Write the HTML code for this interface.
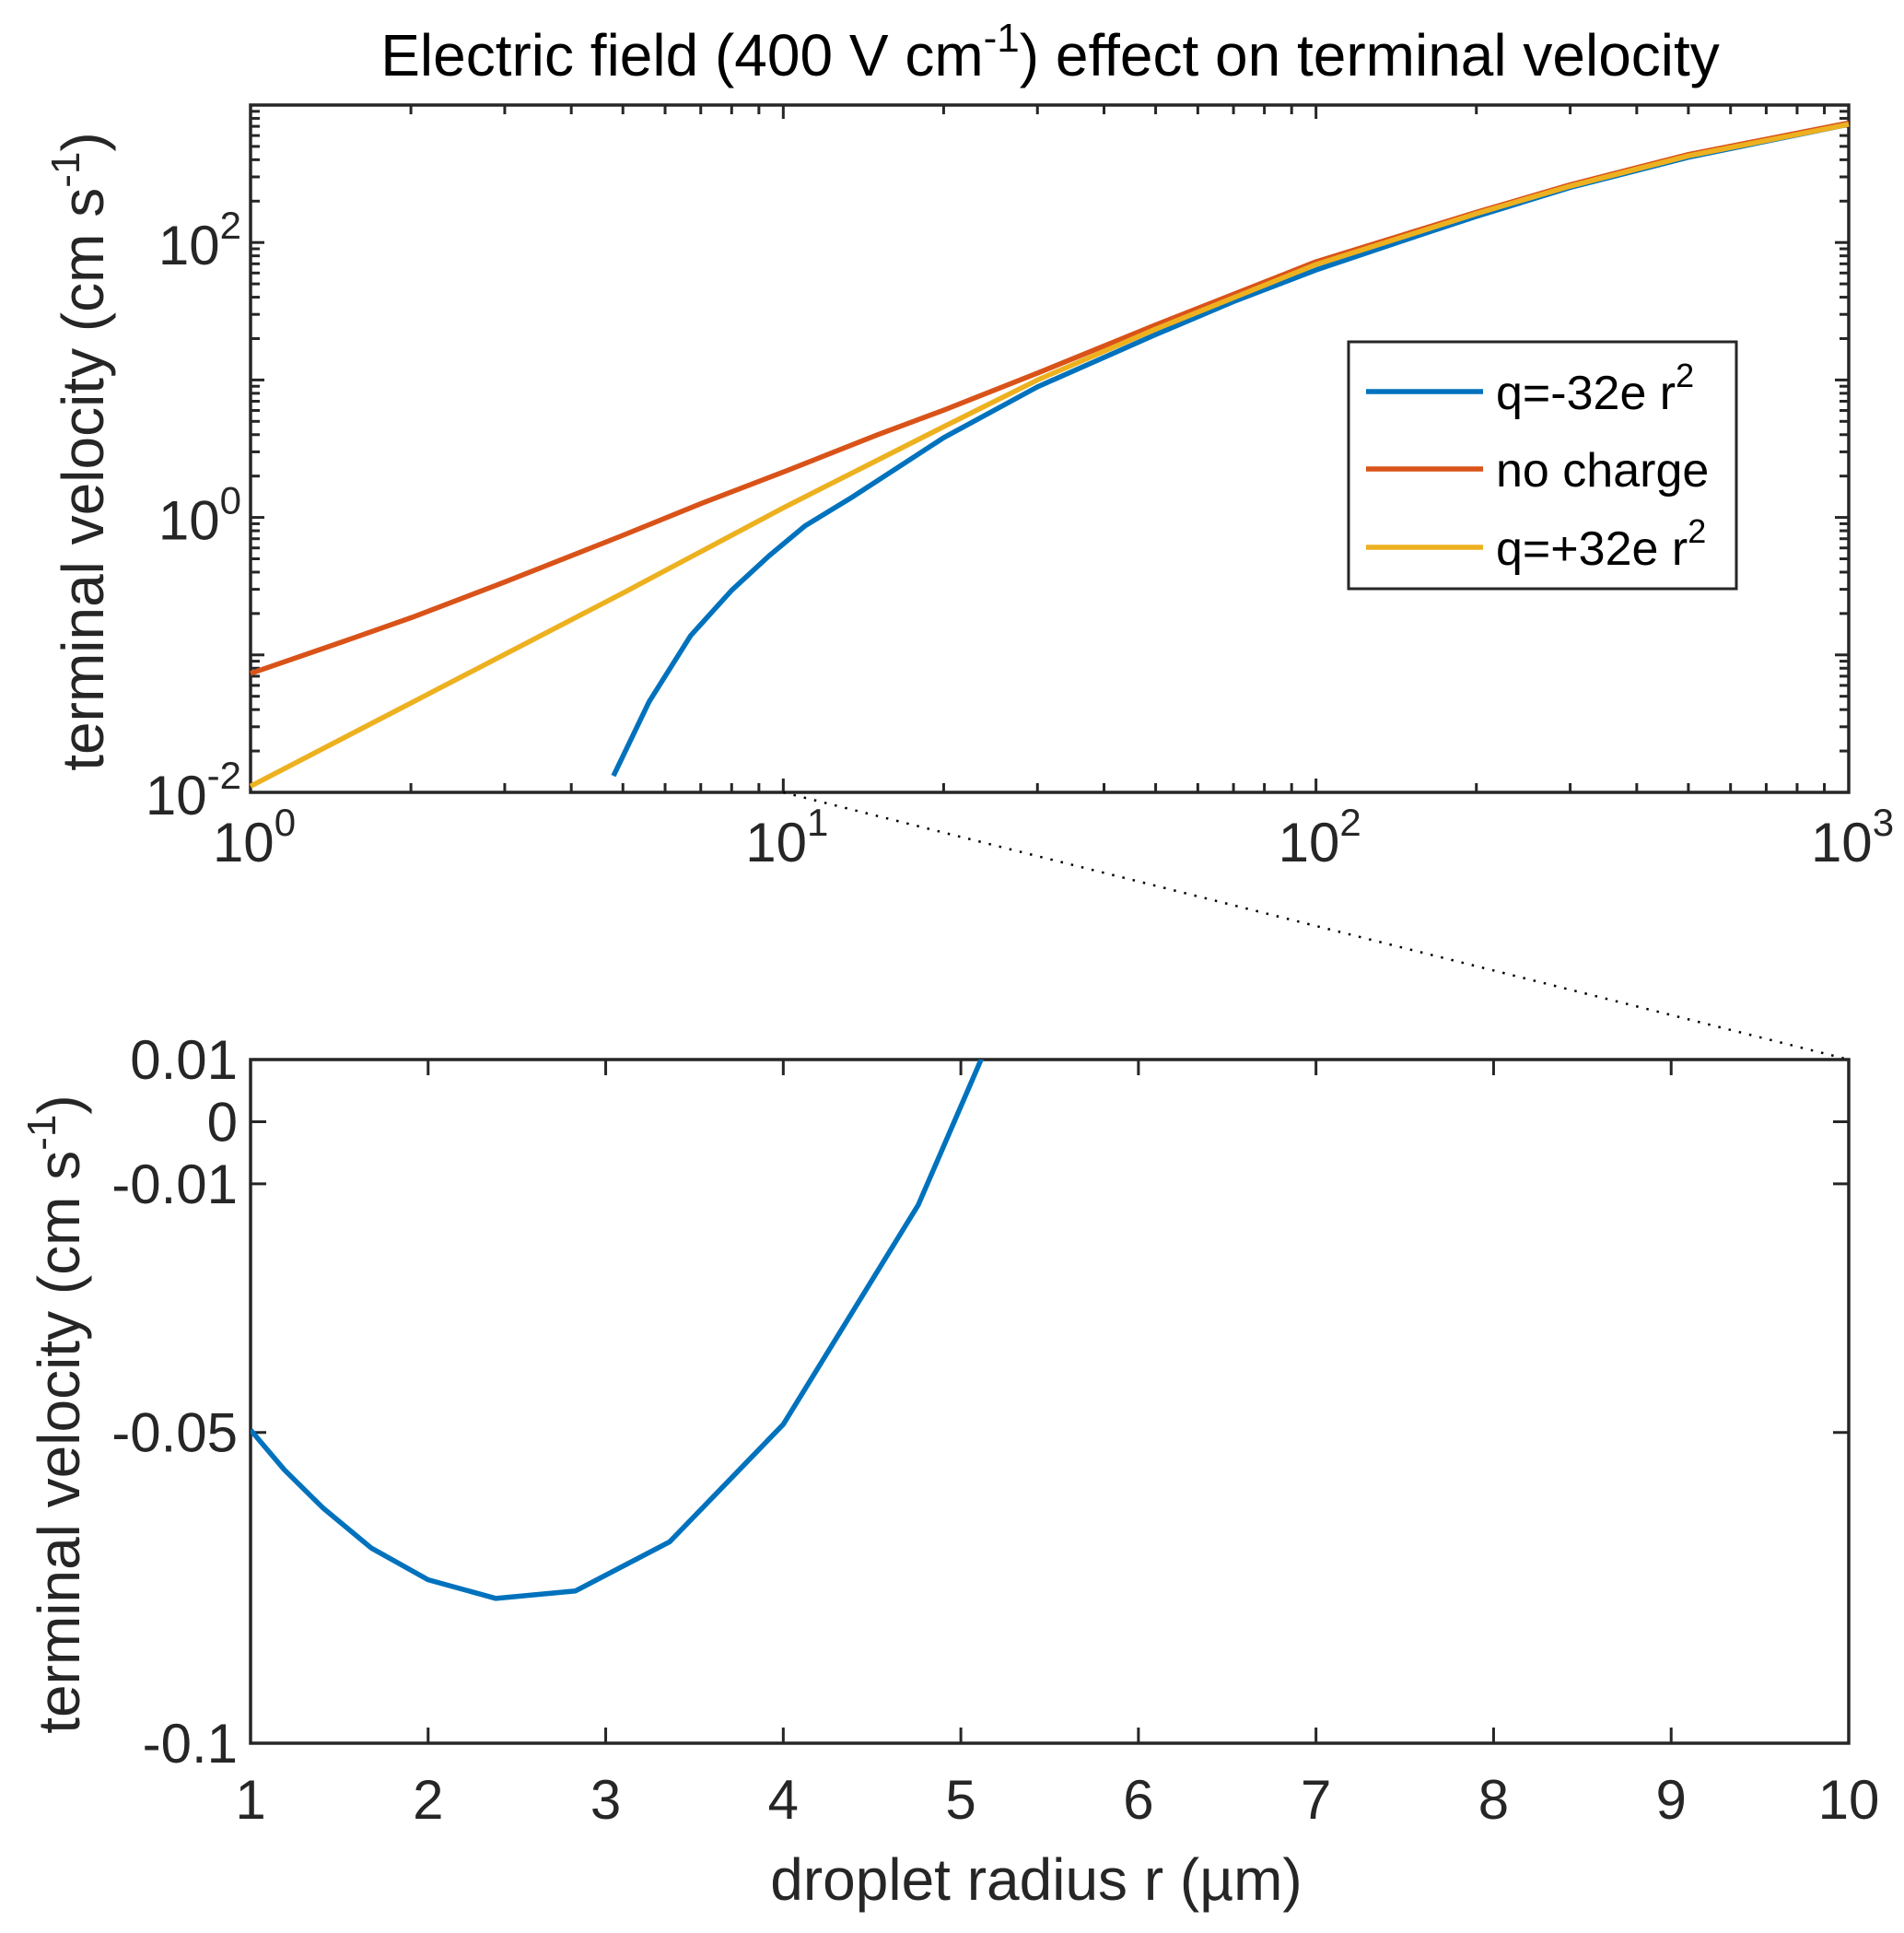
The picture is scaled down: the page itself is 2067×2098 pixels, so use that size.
<!DOCTYPE html>
<html><head><meta charset="utf-8"><style>
html,body{margin:0;padding:0;background:#fff}
svg{display:block;font-family:"Liberation Sans",Helvetica,Arial,sans-serif}
</style></head><body>
<svg id="c" width="2067" height="2098" viewBox="0 0 2067 2098" xmlns="http://www.w3.org/2000/svg"></svg>
<script>
// ---- data ----
const blueX=[4.8,5.6,6.7,8,9.4,11,13.5,20,30,50,70,100,150,200,300,500,1000];
const blueLogY=[-1.88,-1.34,-0.86,-0.53,-0.28,-0.06,0.15,0.58,0.95,1.33,1.57,1.8,2.03,2.19,2.4,2.62,2.86];
const redX=[1,1.5,2,3,5,7,10,15,20,30,50,100,200,300,500,1000];
const redLogY=[-1.135,-0.9,-0.73,-0.47,-0.13,0.1,0.33,0.6,0.78,1.05,1.4,1.86,2.22,2.42,2.64,2.87];
const yelX=[1,2,5,10,20,30,50,100,200,300,500,1000];
const yelLogY=[-1.955,-1.35,-0.55,0.07,0.66,1.0,1.37,1.84,2.21,2.41,2.63,2.86];
const legendLabels=["q=-32e r","no charge","q=+32e r"];
const topXTickExp=[0,1,2,3];
const topYTickExp=[-2,0,2];
const botX=[1,1.19,1.41,1.68,2,2.38,2.83,3.36,4,4.76,5.12];
const botY=[-0.0496,-0.056,-0.0622,-0.0686,-0.0737,-0.0767,-0.0755,-0.0676,-0.0487,-0.0134,0.0104];
const botXTicks=[1,2,3,4,5,6,7,8,9,10];
const botYTicks=[0.01,0,-0.01,-0.05,-0.1];
const botYTickLabels=["0.01","0","-0.01","-0.05","-0.1"];

const NS="http://www.w3.org/2000/svg";
const svg=document.getElementById('c');
function el(tag,attrs,parent){const e=document.createElementNS(NS,tag);for(const k in attrs)e.setAttribute(k,attrs[k]);(parent||svg).appendChild(e);return e;}
const L=272,R=2007,T1=114,B1=860,T2=1150,B2=1892;
const tx=v=>L+Math.log10(v)/3*(R-L);
const tyL=lv=>B1-(lv+2)/5*(B1-T1);
const bx=v=>L+(v-1)/9*(R-L);
const by=v=>B2-(v+0.1)/0.11*(B2-T2);
const ink="#262626";
const TF=60, SF=42, AF=64;

// title
const title=el('text',{x:1140,y:82,'font-size':AF,'text-anchor':'middle',fill:'#000'});


title.innerHTML='Electric field (400 V cm<tspan dy="-26" font-size="44">-1</tspan><tspan dy="26">) effect on terminal velocity</tspan>';

// top axes
const gTop=el('g',{});


el('rect',{x:L,y:T1,width:R-L,height:B1-T1,fill:'#fff',stroke:ink,'stroke-width':3.5},gTop);
for(let d=0;d<3;d++){for(let m=1;m<=9;m++){const v=Math.pow(10,d)*m;const x=tx(v);const len=m===1?15:10;
el('line',{x1:x,y1:B1,x2:x,y2:B1-len,stroke:ink,'stroke-width':3},gTop);
el('line',{x1:x,y1:T1,x2:x,y2:T1+len,stroke:ink,'stroke-width':3},gTop);}}
for(let d=-2;d<3;d++){for(let m=1;m<=9;m++){const lv=d+Math.log10(m);const y=tyL(lv);const len=m===1?15:10;
el('line',{x1:L,y1:y,x2:L+len,y2:y,stroke:ink,'stroke-width':3},gTop);
el('line',{x1:R,y1:y,x2:R-len,y2:y,stroke:ink,'stroke-width':3},gTop);}}
topXTickExp.forEach(e=>{const t=el('text',{x:tx(Math.pow(10,e))+4,y:935,'font-size':TF,'text-anchor':'middle',fill:ink},gTop);


t.innerHTML='10<tspan dy="-28" font-size="'+SF+'">'+e+'</tspan>';});
topYTickExp.forEach(e=>{const t=el('text',{x:262,y:tyL(e)+24,'font-size':TF,'text-anchor':'end',fill:ink},gTop);


t.innerHTML='10<tspan dy="-28" font-size="'+SF+'">'+e+'</tspan>';});
const yl1=el('text',{transform:'translate(112,490) rotate(-90)','font-size':AF,'text-anchor':'middle',fill:ink});


yl1.innerHTML='terminal velocity (cm s<tspan dy="-26" font-size="44">-1</tspan><tspan dy="26">)</tspan>';

function poly(xs,ys,fx,fy,color,name){const p=el('polyline',{points:xs.map((x,i)=>fx(x)+','+fy(ys[i])).join(' '),fill:'none',stroke:color,'stroke-width':5.5,'stroke-linejoin':'round'});

return p;}
poly(redX,redLogY,tx,tyL,'#D95319','series-no-charge');
poly(blueX,blueLogY,tx,tyL,'#0072BD','series-negative-charge');
poly(yelX,yelLogY,tx,tyL,'#EDB120','series-positive-charge');

// legend
const lg=el('g',{});


el('rect',{x:1464,y:371,width:421,height:268,fill:'#fff',stroke:ink,'stroke-width':3},lg);
const lc=['#0072BD','#D95319','#EDB120'];const ly=[425,509,594];
legendLabels.forEach((s,i)=>{
const e=el('g',{},lg);


el('line',{x1:1483,y1:ly[i],x2:1610,y2:ly[i],stroke:lc[i],'stroke-width':5.5},e);
const t=el('text',{x:1624,y:ly[i]+19,'font-size':52,fill:'#000'},e);
t.innerHTML=s+(i!==1?'<tspan dy="-24" font-size="36">2</tspan>':'');});

// dotted connector
const dl=el('line',{x1:tx(10),y1:B1,x2:R,y2:T2,stroke:'#000','stroke-width':2.5,'stroke-dasharray':'2.5 9'});



// bottom axes
const gB=el('g',{});


el('rect',{x:L,y:T2,width:R-L,height:B2-T2,fill:'#fff',stroke:ink,'stroke-width':3.5},gB);
botXTicks.forEach(v=>{const x=bx(v);
el('line',{x1:x,y1:B2,x2:x,y2:B2-17,stroke:ink,'stroke-width':3},gB);
el('line',{x1:x,y1:T2,x2:x,y2:T2+17,stroke:ink,'stroke-width':3},gB);
const t=el('text',{x:x,y:1974,'font-size':TF,'text-anchor':'middle',fill:ink},gB);


t.textContent=v;});
botYTicks.forEach((v,i)=>{const y=by(v);
el('line',{x1:L,y1:y,x2:L+17,y2:y,stroke:ink,'stroke-width':3},gB);
el('line',{x1:R,y1:y,x2:R-17,y2:y,stroke:ink,'stroke-width':3},gB);
const t=el('text',{x:258,y:y+21,'font-size':TF,'text-anchor':'end',fill:ink},gB);


t.textContent=botYTickLabels[i];});
const yl2=el('text',{transform:'translate(86,1535) rotate(-90)','font-size':AF,'text-anchor':'middle',fill:ink});


yl2.innerHTML='terminal velocity (cm s<tspan dy="-26" font-size="44">-1</tspan><tspan dy="26">)</tspan>';
const xl=el('text',{x:1125,y:2062,'font-size':AF,'text-anchor':'middle',fill:ink});


xl.textContent='droplet radius r (µm)';
const cp=el('clipPath',{id:'cb'});el('rect',{x:L,y:T2,width:R-L,height:B2-T2},cp);
const bl=poly(botX,botY,bx,by,'#0072BD','series-negative-charge-zoom');bl.setAttribute('clip-path','url(#cb)');
</script>
</body></html>
